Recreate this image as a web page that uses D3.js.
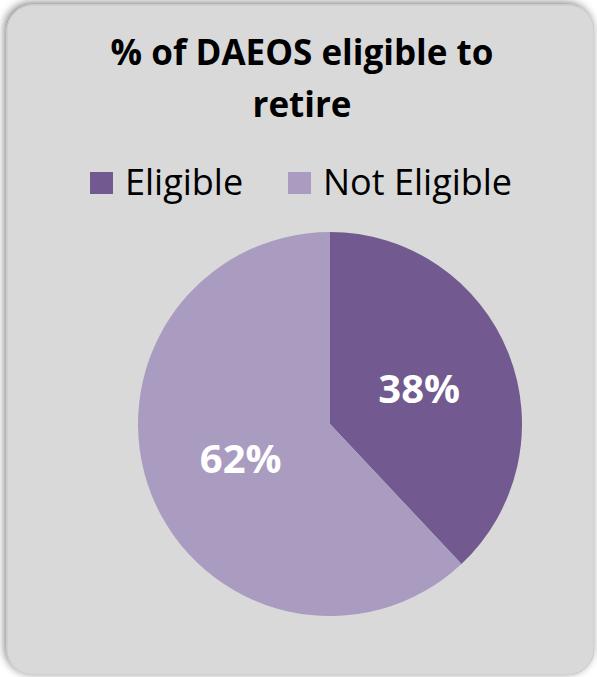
<!DOCTYPE html>
<html>
<head>
<meta charset="utf-8">
<script src="https://cdn.jsdelivr.net/npm/d3@7"></script>
<style>
  body { margin: 0; background: #fff; }
  text { font-family: "Open Sans", sans-serif; }
</style>
</head>
<body>
<div id="my_dataviz"></div>
<script>
var categories = ["Eligible", "Not Eligible"];
var values = [38, 62];
var colors = ["#725a91", "#aa9bc0"];
var titleLines = ["% of DAEOS eligible to", "retire"];

var width = 597, height = 677;

var svg = d3.select("#my_dataviz")
    .append("svg")
    .attr("width", width)
    .attr("height", height);

// soft shadow on the top/left of the panel
var defs = svg.append("defs");
var f = defs.append("filter").attr("id", "shadow")
    .attr("x", "-10%").attr("y", "-10%").attr("width", "120%").attr("height", "120%");
f.append("feGaussianBlur").attr("in", "SourceAlpha").attr("stdDeviation", 4);
f.append("feOffset").attr("dx", -2).attr("dy", -2).attr("result", "ob");
f.append("feComponentTransfer").append("feFuncA").attr("type", "linear").attr("slope", 0.5);
var m = f.append("feMerge");
m.append("feMergeNode");
m.append("feMergeNode").attr("in", "SourceGraphic");

svg.append("rect")
    .attr("x", 7).attr("y", 5)
    .attr("width", 587).attr("height", 670)
    .attr("rx", 26).attr("ry", 26)
    .attr("fill", "#d9d9d9")
    .attr("stroke", "#c8c8c8")
    .attr("stroke-width", 1)
    .attr("filter", "url(#shadow)");

// title
svg.append("text")
    .attr("text-anchor", "middle")
    .style("font-size", "35px")
    .style("font-weight", "bold")
    .selectAll("tspan")
    .data(titleLines)
    .enter().append("tspan")
    .attr("x", 302)
    .attr("y", function(d, i) { return 65 + i * 52; })
    .text(function(d) { return d; });

// legend
var legendX = [90, 288];
var legend = svg.append("g")
    .selectAll("g")
    .data(categories)
    .enter().append("g")
    .attr("transform", function(d, i) { return "translate(" + legendX[i] + ",172)"; });
legend.append("rect")
    .attr("width", 23).attr("height", 22)
    .attr("fill", function(d, i) { return colors[i]; });
legend.append("text")
    .attr("x", 35).attr("y", 23)
    .style("font-size", "36px")
    .attr("fill", "#000")
    .text(function(d) { return d; });

// pie
var cx = 330, cy = 424, r = 192;
var pie = d3.pie().sort(null).value(function(d) { return d; });
var arc = d3.arc().innerRadius(0).outerRadius(r);
var arcs = pie(values);

var g = svg.append("g").attr("transform", "translate(" + cx + "," + cy + ")");
g.selectAll("path")
    .data(arcs)
    .enter().append("path")
    .attr("d", arc)
    .attr("fill", function(d, i) { return colors[i]; });

var labelArc = d3.arc().innerRadius(r * 0.5).outerRadius(r * 0.5);
g.selectAll("text.lbl")
    .data(arcs)
    .enter().append("text")
    .attr("class", "lbl")
    .attr("transform", function(d) {
        var c = labelArc.centroid(d);
        return "translate(" + c[0] + "," + c[1] + ")";
    })
    .attr("text-anchor", "middle")
    .attr("dy", "0.35em")
    .style("font-size", "40px")
    .style("font-weight", "bold")
    .attr("fill", "#fff")
    .text(function(d) { return d.data + "%"; });
</script>
</body>
</html>
